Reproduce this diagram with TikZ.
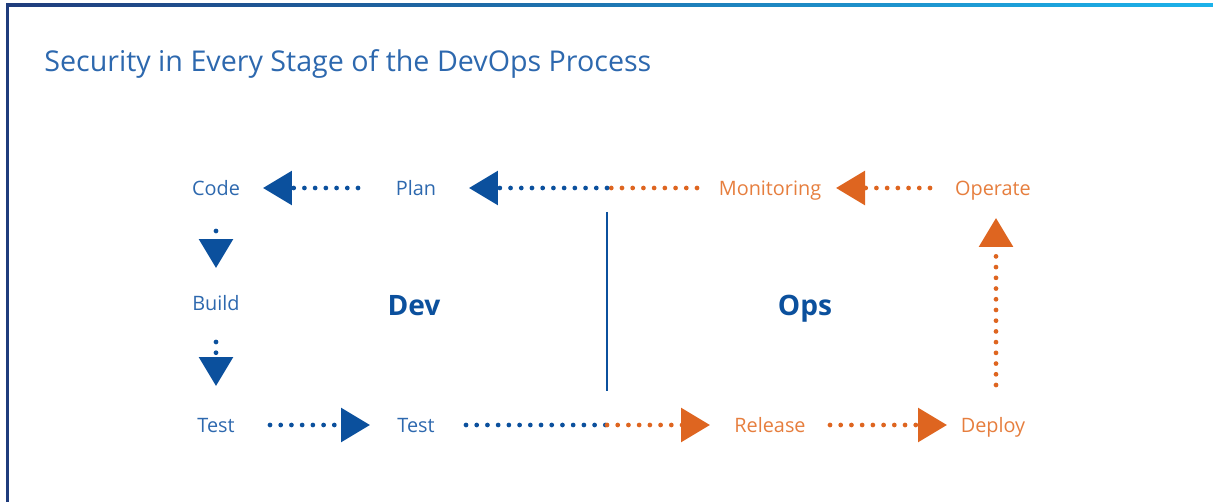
\documentclass[tikz,border=0pt]{standalone}
\usepackage{fontspec}
\setmainfont{Open Sans}
\usetikzlibrary{arrows.meta}
\definecolor{arblue}{HTML}{0B509D}
\definecolor{txblue}{HTML}{2D68AE}
\definecolor{arorange}{HTML}{DE6520}
\definecolor{txorange}{HTML}{E67E3E}
\definecolor{frameleft}{HTML}{1F3C7C}
\definecolor{frameright}{HTML}{1CB2EA}
\tikzset{
  lbl/.style={font=\fontsize{11.3pt}{13pt}\selectfont, inner sep=0pt, anchor=center, text height=8pt, text depth=0pt},
  bl/.style={lbl, text=txblue},
  orl/.style={lbl, text=txorange},
  big/.style={font=\fontsize{16pt}{18pt}\selectfont\bfseries, text=arblue, inner sep=0pt, text height=11.4pt, text depth=0pt},
  dots/.style={line width=2.7pt, line cap=round, dash pattern=on 0pt off 6.1pt},
  tip/.style={-{Triangle[length=16.5pt,width=19pt]}},
}
\begin{document}
\begin{tikzpicture}[x=0.02cm,y=-0.02cm]
\useasboundingbox (0,0) rectangle (1213,502);
% frame
\shade[left color=frameleft, right color=frameright] (6,4) rectangle (1213,7);
\fill[frameleft] (6,4) rectangle (9,502);
% title
\node[anchor=base west, inner sep=0pt, text=txblue, font=\fontsize{16.3pt}{19pt}\selectfont] (title) at (44,72) {Security in Every Stage of the DevOps Process};
% labels
\node[bl] (code) at (216,188) {Code};
\node[bl] (plan) at (416,188) {Plan};
\node[orl] (mon) at (770,188) {Monitoring};
\node[orl] (oper) at (993,188) {Operate};
\node[bl] (build) at (216,303) {Build};
\node[bl] (test1) at (216,425) {Test};
\node[bl] (test2) at (416,425) {Test};
\node[orl] (rel) at (770,425) {Release};
\node[orl] (dep) at (993,425) {Deploy};
\node[big] (dev) at (414,305) {Dev};
\node[big] (ops) at (805,305) {Ops};
\coordinate (midtop) at (607,188);
\coordinate (midbot) at (607,425);
\coordinate (divtop) at (607,212);
\coordinate (divbot) at (607,391);
% divider
\draw[arblue, line width=0.9pt] (divtop) -- (divbot);
% top row
\draw[arblue, dots, tip] ([xshift=-58*0.02cm]plan.center) -- ([xshift=47*0.02cm]code.center);
\draw[arorange, dots] ([xshift=-73*0.02cm]mon.center) -- (midtop);
\draw[arblue, dots, tip] (midtop) -- ([xshift=53*0.02cm]plan.center);
\draw[arorange, dots, tip] ([xshift=-63*0.02cm]oper.center) -- ([xshift=66*0.02cm]mon.center);
% left column
\draw[arblue, dots, tip] ([yshift=-43*0.02cm]code.center) -- ([yshift=35*0.02cm]build.center);
\draw[arblue, dots, tip] ([yshift=-39*0.02cm]build.center) -- ([yshift=39*0.02cm]test1.center);
% bottom row
\draw[arblue, dots, tip] ([xshift=54*0.02cm]test1.center) -- ([xshift=-46*0.02cm]test2.center);
\draw[arblue, dots] ([xshift=50*0.02cm]test2.center) -- (midbot);
\draw[arorange, dots, tip] (midbot) -- ([xshift=-60*0.02cm]rel.center);
\draw[arorange, dots, tip] ([xshift=60*0.02cm]rel.center) -- ([xshift=-46*0.02cm]dep.center);
% right column
\draw[arorange, dots, tip] ([xshift=3*0.02cm,yshift=40*0.02cm]dep.center) -- ([xshift=3*0.02cm,yshift=-30*0.02cm]oper.center);
\end{tikzpicture}
\end{document}
